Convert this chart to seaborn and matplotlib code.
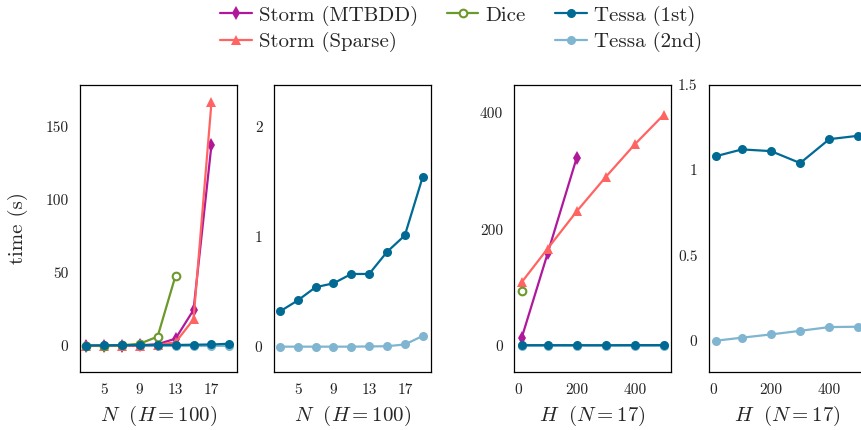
import matplotlib
matplotlib.use("Agg")
import matplotlib.pyplot as plt
from matplotlib.lines import Line2D
from matplotlib.ticker import FuncFormatter
import seaborn as sns

# === Data ===
n_vals = [3, 5, 7, 9, 11, 13, 15, 17, 19]
n_mtbdd = [0.1, 0.15, 0.25, 0.4, 1.2, 5.0, 24.6, 137.5]
n_sparse = [0.05, 0.08, 0.15, 0.3, 0.8, 2.5, 18.2, 166.5]
n_dice = [0.2, 0.3, 0.5, 1.5, 6.4, 48.1]
n_tessa1 = [0.32, 0.42, 0.54, 0.575, 0.66, 0.66, 0.86, 1.01, 1.54]
n_tessa2 = [0.0, 0.0, 0.0, 0.0, 0.0, 0.002, 0.004, 0.02, 0.097]

h_vals = [10, 100, 200, 300, 400, 500]
h_mtbdd = [13, 159, 323]
h_sparse = [109, 167, 231, 290, 346, 397]
h_dice = [94]
h_tessa1 = [1.08, 1.12, 1.11, 1.04, 1.18, 1.20]
h_tessa2 = [0.0, 0.018, 0.037, 0.058, 0.080, 0.082]

# === Style ===
C_MTBDD = "#b0189c"
C_SPARSE = "#ff6462"
C_DICE = "#6b992b"
C_T1 = "#006a94"
C_T2 = "#7fb5d0"

sns.set_style("white")
plt.rcParams['font.family'] = ['cmr10', 'DejaVu Serif']
plt.rcParams['mathtext.fontset'] = 'cm'
plt.rcParams['axes.formatter.use_mathtext'] = True
plt.rcParams['axes.unicode_minus'] = False

LW = 1.6

series_style = {
    "Storm (MTBDD)": dict(color=C_MTBDD, marker="d", markersize=7),
    "Storm (Sparse)": dict(color=C_SPARSE, marker="^", markersize=7.5),
    "Dice": dict(color=C_DICE, marker="o", markersize=5.5, markerfacecolor="white",
                 markeredgewidth=1.5),
    "Tessa (1st)": dict(color=C_T1, marker="o", markersize=6.5),
    "Tessa (2nd)": dict(color=C_T2, marker="o", markersize=6.5),
}


def draw(ax, x, y, name):
    st = dict(series_style[name])
    color = st.pop("color")
    st.setdefault("markerfacecolor", color)
    st.setdefault("markeredgewidth", 0)
    sns.lineplot(x=x[:len(y)], y=y, ax=ax, color=color, linewidth=LW,
                 markeredgecolor=color, label=name, legend=False, **st)


def style_axes(ax, xlim, ylim, xticks, yticks, xlabel):
    ax.set_xlim(xlim)
    ax.set_ylim(ylim)
    ax.set_xticks(xticks)
    ax.set_yticks(yticks)
    fmt = FuncFormatter(lambda v, p: "%g" % v)
    ax.xaxis.set_major_formatter(fmt)
    ax.yaxis.set_major_formatter(fmt)
    ax.tick_params(direction="in", length=9, width=0.8, color="#a0a0a0",
                   labelsize=11, pad=8, labelcolor="#222222")
    for sp in ax.spines.values():
        sp.set_color("black")
        sp.set_linewidth(0.9)
    ax.set_xlabel(xlabel, fontsize=15, labelpad=5)
    ax.set_ylabel("")
    ax.grid(False)


fig = plt.figure(figsize=(8.62, 4.30), dpi=100)
W, H = 862.0, 430.0
bottom = (H - 372.0) / H
height = (372.0 - 84.5) / H
lefts = [79.5, 273.7, 514.3, 708.7]
widths = [158.0, 157.0, 156.4, 157.0]
axes = [fig.add_axes([l / W, bottom, w / W, height]) for l, w in zip(lefts, widths)]
ax1, ax2, ax3, ax4 = axes

# Panel 1: all tools over N
draw(ax1, n_vals, n_tessa2, "Tessa (2nd)")
draw(ax1, n_vals, n_mtbdd, "Storm (MTBDD)")
draw(ax1, n_vals, n_sparse, "Storm (Sparse)")
draw(ax1, n_vals, n_dice, "Dice")
draw(ax1, n_vals, n_tessa1, "Tessa (1st)")
style_axes(ax1, (2.3, 19.9), (-17.8, 178.8), [5, 9, 13, 17], [0, 50, 100, 150],
           r"$N\ \ (H = 100)$")
ax1.set_ylabel("time (s)", fontsize=15, labelpad=12)

# Panel 2: Tessa only over N
draw(ax2, n_vals, n_tessa2, "Tessa (2nd)")
draw(ax2, n_vals, n_tessa1, "Tessa (1st)")
style_axes(ax2, (2.3, 19.9), (-0.23, 2.38), [5, 9, 13, 17], [0, 1, 2],
           r"$N\ \ (H = 100)$")

# Panel 3: all tools over H
draw(ax3, h_vals, h_tessa2, "Tessa (2nd)")
draw(ax3, h_vals, h_mtbdd, "Storm (MTBDD)")
draw(ax3, h_vals, h_sparse, "Storm (Sparse)")
draw(ax3, h_vals, h_dice, "Dice")
draw(ax3, h_vals, h_tessa1, "Tessa (1st)")
style_axes(ax3, (-15, 524), (-45, 449), [0, 200, 400], [0, 200, 400],
           r"$H\ \ (N = 17)$")

# Panel 4: Tessa only over H
draw(ax4, h_vals, h_tessa2, "Tessa (2nd)")
draw(ax4, h_vals, h_tessa1, "Tessa (1st)")
style_axes(ax4, (-14, 525), (-0.183, 1.5), [0, 200, 400], [0, 0.5, 1, 1.5],
           r"$H\ \ (N = 17)$")

# === Legend on top, 3 columns ===
handles, labels = ax1.get_legend_handles_labels()
lookup = dict(zip(labels, handles))
blank = Line2D([], [], alpha=0)
order = ["Storm (MTBDD)", "Storm (Sparse)", "Dice", None, "Tessa (1st)", "Tessa (2nd)"]
leg_handles = [lookup[k] if k else blank for k in order]
leg_labels = [k if k else "" for k in order]
fig.legend(leg_handles, leg_labels, loc="center", bbox_to_anchor=(0.535, 0.933),
           ncol=3, frameon=False, fontsize=15, handlelength=1.5, handletextpad=0.35,
           columnspacing=1.4, labelspacing=0.3, borderpad=0.2)

fig.savefig("out.png", dpi=100)
plt.close(fig)
